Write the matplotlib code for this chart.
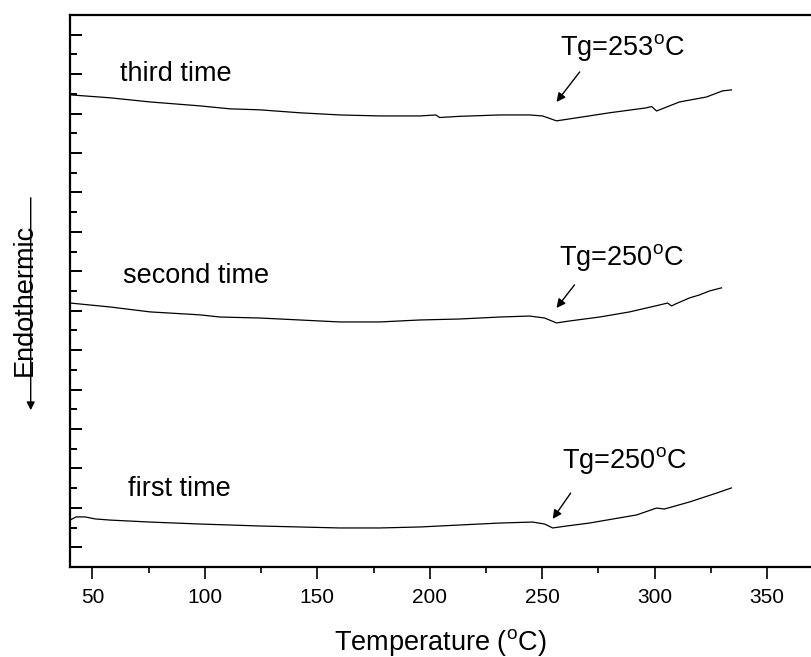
import matplotlib
matplotlib.use('Agg')
import matplotlib.pyplot as plt
from matplotlib.ticker import FixedLocator

plt.rcParams['font.family'] = ['Liberation Sans', 'DejaVu Sans']
plt.rcParams['mathtext.fontset'] = 'custom'
plt.rcParams['mathtext.rm'] = 'Liberation Sans'

# DSC traces (temperature in C, arbitrary heat-flow units)
t_third = [40, 57.8, 75.6, 97.8, 111.1, 124.4, 142.2, 160, 177.8, 195.6, 202.7, 204.4,
           213.3, 231.1, 244.4, 250.2, 256.4, 262.2, 268, 280, 296.4, 298.7, 300.9,
           311.1, 323.1, 330.2, 334.2]
h_third = [23.95, 23.80, 23.59, 23.39, 23.24, 23.19, 23.04, 22.93, 22.88, 22.88, 22.93, 22.80,
           22.86, 22.93, 22.93, 22.88, 22.63, 22.73, 22.83, 23.04, 23.29, 23.36, 23.13,
           23.59, 23.84, 24.15, 24.20]

t_second = [40, 57.8, 75.6, 97.8, 106.7, 124.4, 142.2, 160, 177.8, 195.6, 213.3, 231.1,
            244.4, 251.1, 256.4, 262.2, 275.6, 288.9, 302.2, 305.8, 307.6, 309.3, 315.6,
            320, 324.4, 329.8]
h_second = [13.39, 13.19, 12.94, 12.79, 12.68, 12.63, 12.53, 12.43, 12.43, 12.53, 12.58, 12.68,
            12.73, 12.63, 12.38, 12.48, 12.68, 12.94, 13.29, 13.39, 13.24, 13.34, 13.65,
            13.80, 14.00, 14.16]

t_first = [40, 42.7, 46.7, 51.1, 57.8, 75.6, 97.8, 124.4, 142.2, 160, 177.8, 195.6, 213.3,
           231.1, 245.8, 251.1, 254.7, 260.9, 271.1, 278.7, 292, 300.9, 304.4, 315.6,
           327.6, 334.2]
h_first = [2.38, 2.54, 2.54, 2.44, 2.38, 2.28, 2.18, 2.08, 2.03, 1.98, 1.98, 2.03, 2.13,
           2.23, 2.28, 2.18, 1.98, 2.08, 2.23, 2.38, 2.64, 2.99, 2.94, 3.30,
           3.75, 4.01]

run_labels = ['third time', 'second time', 'first time']
run_label_pos = [(62.2, 24.66), (63.6, 14.41), (65.8, 3.60)]
tg_labels = ['Tg=253$^\\mathrm{o}$C', 'Tg=250$^\\mathrm{o}$C', 'Tg=250$^\\mathrm{o}$C']
tg_text_pos = [(258.0, 25.95), (257.5, 15.32), (259.0, 5.02)]
tg_arrow_start = [(266.7, 25.11), (264.4, 14.31), (262.7, 3.75)]
tg_arrow_tip = [(256.4, 23.59), (256.4, 13.14), (254.7, 2.44)]

x_major = [50, 100, 150, 200, 250, 300, 350]
x_minor = [75, 125, 175, 225, 275, 325]
y_major = list(range(1, 28, 2))
y_minor = list(range(2, 28, 2))

fig = plt.figure(figsize=(8.11, 6.57), dpi=100)
ax = fig.add_axes([70 / 811, 1 - 567 / 657, 741 / 811, 552 / 657])

for t, h in [(t_third, h_third), (t_second, h_second), (t_first, h_first)]:
    ax.plot(t, h, color='black', lw=0.9)

ax.set_xlim(40, 369.6)
ax.set_ylim(0, 28)

for txt, (x, y) in zip(run_labels, run_label_pos):
    ax.text(x, y, txt, fontsize=19.5, va='baseline', ha='left')
for txt, (x, y), s, e in zip(tg_labels, tg_text_pos, tg_arrow_start, tg_arrow_tip):
    ax.text(x, y, txt, fontsize=19.5, va='baseline', ha='left')
    ax.annotate('', xy=e, xytext=s,
                arrowprops=dict(arrowstyle='-|>', color='black', lw=1.0,
                                mutation_scale=13, shrinkA=0, shrinkB=0))

ax.spines['right'].set_visible(False)
for sp in ['left', 'top', 'bottom']:
    ax.spines[sp].set_linewidth(1.6)

ax.xaxis.set_major_locator(FixedLocator(x_major))
ax.xaxis.set_minor_locator(FixedLocator(x_minor))
ax.yaxis.set_major_locator(FixedLocator(y_major))
ax.yaxis.set_minor_locator(FixedLocator(y_minor))
ax.tick_params(axis='x', which='major', direction='out', length=8.3, width=1.2,
               labelsize=15, pad=7)
ax.tick_params(axis='x', which='minor', direction='out', length=4.3, width=1.2)
ax.tick_params(axis='y', which='major', direction='in', length=8.6, width=1.4,
               labelleft=False)
ax.tick_params(axis='y', which='minor', direction='in', length=5, width=1.4)

ax.set_xlabel('Temperature ($^\\mathrm{o}$C)', fontsize=19.5, labelpad=14)

# y label with downward arrow
fig.text(32 / 811, 1 - 300 / 657, 'Endothermic', fontsize=19.5, rotation=90,
         rotation_mode='anchor', ha='center', va='baseline')
fig.add_artist(matplotlib.patches.FancyArrowPatch(
    (30.7 / 811, 1 - 195 / 657), (30.7 / 811, 1 - 413 / 657),
    transform=fig.transFigure, arrowstyle='-|>', mutation_scale=12,
    lw=1.0, color='black'))

fig.savefig('out.png', dpi=100)
